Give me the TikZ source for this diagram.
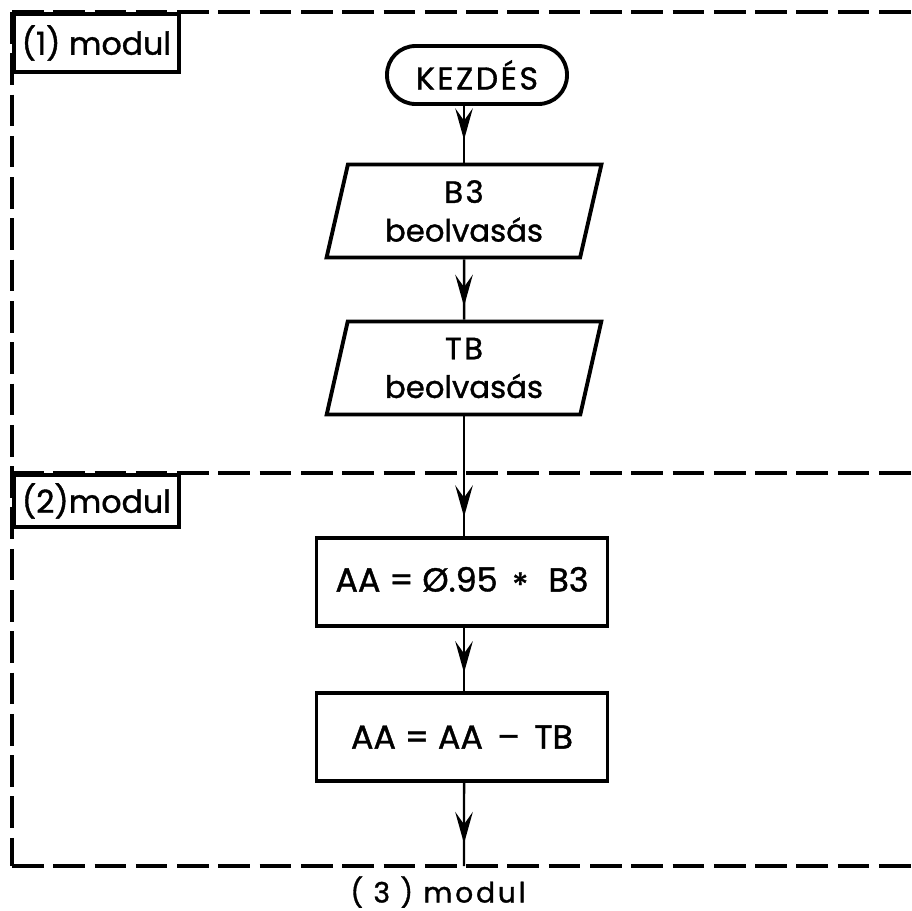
\documentclass[tikz,border=0pt]{standalone}
\usepackage{fontspec}
\setmainfont{Poppins}[FakeBold=1.2]
\usetikzlibrary{arrows.meta,positioning,shapes.geometric,decorations.markings}

\begin{document}
\begin{tikzpicture}[x=0.02cm, y=-0.02cm,
    term/.style={draw, line width=2.2pt, rounded corners=0.57cm, minimum width=3.6cm,
                 minimum height=1.16cm, font=\fontsize{18}{21}\selectfont\addfontfeatures{LetterSpace=8}},
    io/.style={draw, line width=2.2pt, trapezium, trapezium left angle=78, trapezium right angle=102,
               trapezium stretches=true, minimum width=5.5cm, minimum height=1.86cm,
               align=center, font=\fontsize{17.5}{22}\selectfont},
    proc/.style={draw, line width=2.2pt, minimum width=5.82cm, minimum height=1.76cm,
                 font=\fontsize{19}{22}\selectfont},
    modbox/.style={draw, line width=2.2pt, anchor=north west, minimum width=3.3cm,
                   inner sep=2pt, font=\fontsize{18}{21}\selectfont},
    border/.style={line width=1.8pt, dash pattern=on 18pt off 5.5pt},
    flow/.style={line width=1.4pt, postaction={decorate},
                 decoration={markings, mark=at position #1 with {\arrow{Stealth[length=18pt,width=10pt,inset=7pt]}}}},
]
\useasboundingbox (0,0) rectangle (912,910);

% Module borders
\draw[border] (12,12) -- (912,12);
\draw[border] (12,473) -- (912,473);
\draw[border] (12,866) -- (912,866);
\draw[border] (12,12) -- (12,866);
\node[modbox, minimum height=1.16cm] (m1) at (12,12) {(1) modul};
\node[modbox, minimum height=1.04cm] (m2) at (12,473) {(2)modul};
\node[inner sep=0pt, font=\fontsize{16}{18}\selectfont\addfontfeatures{LetterSpace=10}] (m3) at (438,892) {( 3 ) modul};

% Flowchart
\node[term] (start) at (477,75) {KEZDÉS};
\node[io] (p1) at (464,211) {{\addfontfeatures{LetterSpace=8}B3}\\beolvasás};
\node[io] (p2) at (464,368) {{\addfontfeatures{LetterSpace=8}TB}\\beolvasás};
\node[proc] (r1) at (462,582) {AA = Ø.95 \,\raisebox{-0.3ex}{*}\,\, B3};
\node[proc] (r2) at (462,737) {AA = AA \,–\, TB};
\coordinate (out) at (464,866);

% Connecting arrows
\draw[flow=0.6] (start.south -| p1.north) -- (p1.north);
\draw[flow=0.78] (p1.south) -- (p2.north);
\draw[flow=0.84] (p2.south) -- (r1.north -| p2.south);
\draw[flow=0.71] (r1.south -| p2.south) -- (r2.north -| p2.south);
\draw[flow=0.73] (r2.south -| p2.south) -- (out);
\end{tikzpicture}
\end{document}
